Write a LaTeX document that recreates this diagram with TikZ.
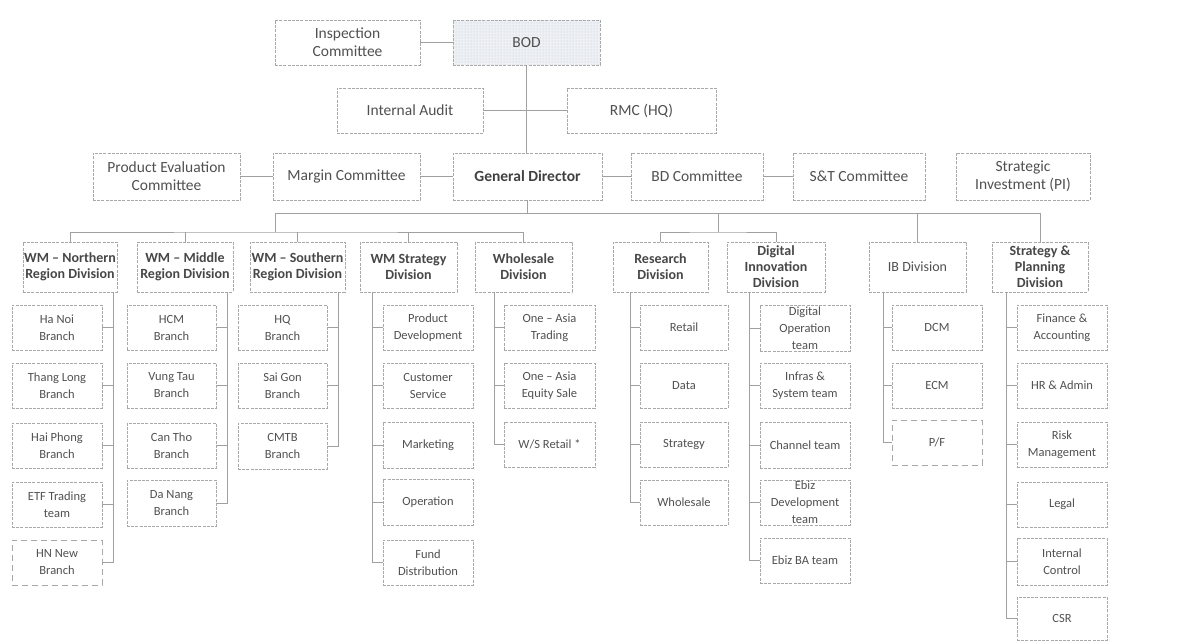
\documentclass[tikz,border=0pt]{standalone}
\usepackage{fontspec}
\setmainfont{Carlito}
\usetikzlibrary{patterns}
\definecolor{txtgray}{HTML}{505050}
\definecolor{boxgray}{HTML}{A8A8A8}
\definecolor{linegray}{HTML}{A0A0A0}
\definecolor{bodfill}{HTML}{EDF0F4}
\tikzset{
  box/.style={draw=boxgray, line width=0.7pt, dash pattern=on 3pt off 1.2pt, rectangle, inner sep=0pt, outer sep=0pt},
  longdash/.style={dash pattern=on 6pt off 4pt},
  bodstyle/.style={fill=bodfill, postaction={pattern=dots, pattern color=gray!45}},
  ttop/.style={font=\fontsize{15.5}{18}\selectfont, text=txtgray, align=center, inner sep=0pt},
  ttopb/.style={ttop, font=\fontsize{15.5}{18}\selectfont\bfseries, text=black!75},
  tdiv/.style={font=\fontsize{14}{16}\selectfont\bfseries, text=black!72, align=center, inner sep=0pt},
  tdivr/.style={font=\fontsize{14}{16}\selectfont, text=txtgray, align=center, inner sep=0pt},
  tch/.style={font=\fontsize{12.5}{17}\selectfont, text=txtgray, align=center, inner sep=0pt},
  conn/.style={draw=linegray, line width=0.6pt}
}
% \obox{box style}{text style}{x1}{y1}{x2}{y2}{name}{text}
\newcommand\obox[8]{%
  \node[box,#1,minimum width={#5-#3},minimum height={#6-#4}] (#7) at ({(#3+#5)/2},{(#4+#6)/2}) {};
  \node[#2] (#7-t) at (#7.center) {#8};}
\begin{document}
\begin{tikzpicture}[x=1pt,y=-1pt]
\useasboundingbox (0,0) rectangle (1177,641);
% top
\obox{}{ttop}{275}{20}{420}{65}{insp}{Inspection\\Committee}
\obox{bodstyle}{ttop}{453}{20}{600}{65}{bod}{BOD}
\obox{}{ttop}{337}{88}{483}{133}{ia}{Internal Audit}
\obox{}{ttop}{567}{88}{716}{133}{rmc}{RMC (HQ)}
\obox{}{ttop}{93}{153}{240}{200}{pec}{Product Evaluation\\Committee}
\obox{}{ttop}{273}{153}{420}{200}{mc}{Margin Committee}
\obox{}{ttopb}{453}{153}{602}{200}{gd}{General Director}
\obox{}{ttop}{631}{153}{763}{200}{bd}{BD Committee}
\obox{}{ttop}{793}{153}{925}{200}{st}{S\&T Committee}
\obox{}{ttop}{956}{153}{1090}{200}{pi}{Strategic\\Investment (PI)}
% divisions
\obox{}{tdiv}{23}{242}{117}{292}{wmn}{WM -- Northern\\Region Division}
\obox{}{tdiv}{137}{242}{233}{292}{wmm}{WM -- Middle\\Region Division}
\obox{}{tdiv}{250}{242}{345}{292}{wms}{WM -- Southern\\Region Division}
\obox{}{tdiv}{360}{242}{457}{292}{wmst}{WM Strategy\\Division}
\obox{}{tdiv}{475}{242}{572}{292}{whs}{Wholesale\\Division}
\obox{}{tdiv}{613}{242}{708}{292}{res}{Research\\Division}
\obox{}{tdiv}{727}{242}{825}{292}{dig}{Digital\\Innovation\\Division}
\obox{}{tdivr}{869}{242}{966}{292}{ib}{IB Division}
\obox{}{tdiv}{992}{242}{1088}{292}{sp}{Strategy \&\\Planning\\Division}
% Northern
\obox{}{tch}{12}{305}{102}{350}{hanoi}{Ha Noi\\Branch}
\obox{}{tch}{12}{363}{102}{408}{thang}{Thang Long\\Branch}
\obox{}{tch}{12}{423}{102}{468}{haiphong}{Hai Phong\\Branch}
\obox{}{tch}{12}{482}{102}{527}{etf}{ETF Trading\\team}
\obox{longdash}{tch}{12}{540}{102}{585}{hnnew}{HN New\\Branch}
% Middle
\obox{}{tch}{127}{305}{216}{350}{hcm}{HCM\\Branch}
\obox{}{tch}{127}{363}{216}{408}{vungtau}{Vung Tau\\Branch}
\obox{}{tch}{127}{423}{216}{468}{cantho}{Can Tho\\Branch}
\obox{}{tch}{127}{480}{216}{526}{danang}{Da Nang\\Branch}
% Southern
\obox{}{tch}{238}{305}{327}{350}{hq}{HQ\\Branch}
\obox{}{tch}{238}{363}{327}{408}{saigon}{Sai Gon\\Branch}
\obox{}{tch}{238}{423}{327}{469}{cmtb}{CMTB\\Branch}
% WM Strategy
\obox{}{tch}{383}{305}{473}{350}{pd}{Product\\Development}
\obox{}{tch}{383}{363}{473}{408}{cs}{Customer\\Service}
\obox{}{tch}{383}{422}{473}{468}{mkt}{Marketing}
\obox{}{tch}{383}{479}{473}{525}{op}{Operation}
\obox{}{tch}{383}{540}{473}{585}{fd}{Fund\\Distribution}
% Wholesale
\obox{}{tch}{504}{305}{595}{350}{oat}{One -- Asia\\Trading}
\obox{}{tch}{504}{363}{595}{408}{oaes}{One -- Asia\\Equity Sale}
\obox{}{tch}{504}{422}{595}{467}{wsr}{W/S Retail *}
% Research
\obox{}{tch}{640}{305}{728}{350}{retail}{Retail}
\obox{}{tch}{640}{363}{728}{408}{data}{Data}
\obox{}{tch}{640}{422}{728}{467}{strat}{Strategy}
\obox{}{tch}{640}{480}{728}{525}{whsr}{Wholesale}
% Digital
\obox{}{tch}{760}{305}{850}{351}{dop}{Digital\\Operation\\team}
\obox{}{tch}{760}{363}{850}{408}{infra}{Infras \&\\System team}
\obox{}{tch}{760}{422}{850}{468}{chan}{Channel team}
\obox{}{tch}{760}{480}{850}{525}{ebizd}{Ebiz\\Development\\team}
\obox{}{tch}{760}{538}{850}{583}{ebizba}{Ebiz BA team}
% IB
\obox{}{tch}{892}{305}{982}{350}{dcm}{DCM}
\obox{}{tch}{892}{363}{982}{408}{ecm}{ECM}
\obox{longdash}{tch}{892}{420}{982}{465}{pf}{P/F}
% Strategy & Planning
\obox{}{tch}{1017}{305}{1107}{350}{fa}{Finance \&\\Accounting}
\obox{}{tch}{1017}{363}{1107}{408}{hr}{HR \& Admin}
\obox{}{tch}{1017}{422}{1107}{467}{risk}{Risk\\Management}
\obox{}{tch}{1017}{482}{1107}{527}{legal}{Legal}
\obox{}{tch}{1017}{538}{1107}{585}{ic}{Internal\\Control}
\obox{}{tch}{1017}{597}{1107}{640}{csr}{CSR}
% coordinates
\coordinate (b1L) at (275,213);
\coordinate (b1R) at (1040,213);
\coordinate (j2) at (275,232);
\coordinate (j3) at (718,232);
\coordinate (sN) at (113,292);
\coordinate (sM) at (227,292);
\coordinate (sS) at (338,292);
\coordinate (sW) at (372,292);
\coordinate (sH) at (494,292);
\coordinate (sR) at (630,292);
\coordinate (sD) at (749,292);
\coordinate (sI) at (883,292);
\coordinate (sP) at (1006,292);
% top connectors
\draw[conn] (insp.east) -- (bod.west);
\draw[conn] (bod.south) -- (bod.south |- gd.north);
\draw[conn] (ia.east) -- (rmc.west);
\draw[conn] (pec.east) -- (mc.west);
\draw[conn] (mc.east) -- (gd.west);
\draw[conn] (gd.east) -- (bd.west);
\draw[conn] (bd.east) -- (st.west);
% buses
\draw[conn] (gd.south) -- (gd.south |- b1L);
\draw[conn] (b1L) -- (b1R);
\draw[conn] (b1L) -- (j2);
\draw[conn] (wmn.north) |- (j2) -| (whs.north);
\draw[conn] (wmm.north) -- (wmm.north |- j2);
\draw[conn] (wms.north) -- (wms.north |- j2);
\draw[conn] (wmst.north) -- (wmst.north |- j2);
\draw[conn] (res.north) |- (j3) -| (dig.north);
\draw[conn] (j3) -- (j3 |- b1L);
\draw[conn] (ib.north) -- (ib.north |- b1L);
\draw[conn] (sp.north) -- (b1R);
% spines
\foreach \c in {hanoi,thang,haiphong,etf,hnnew} \draw[conn] (sN) |- (\c.east);
\foreach \c in {hcm,vungtau,cantho,danang} \draw[conn] (sM) |- (\c.east);
\foreach \c in {hq,saigon,cmtb} \draw[conn] (sS) |- (\c.east);
\foreach \c in {pd,cs,mkt,op,fd} \draw[conn] (sW) |- (\c.west);
\foreach \c in {oat,oaes,wsr} \draw[conn] (sH) |- (\c.west);
\foreach \c in {retail,data,strat,whsr} \draw[conn] (sR) |- (\c.west);
\foreach \c in {dop,infra,chan,ebizd,ebizba} \draw[conn] (sD) |- (\c.west);
\foreach \c in {dcm,ecm,pf} \draw[conn] (sI) |- (\c.west);
\foreach \c in {fa,hr,risk,legal,ic,csr} \draw[conn] (sP) |- (\c.west);
\end{tikzpicture}
\end{document}
